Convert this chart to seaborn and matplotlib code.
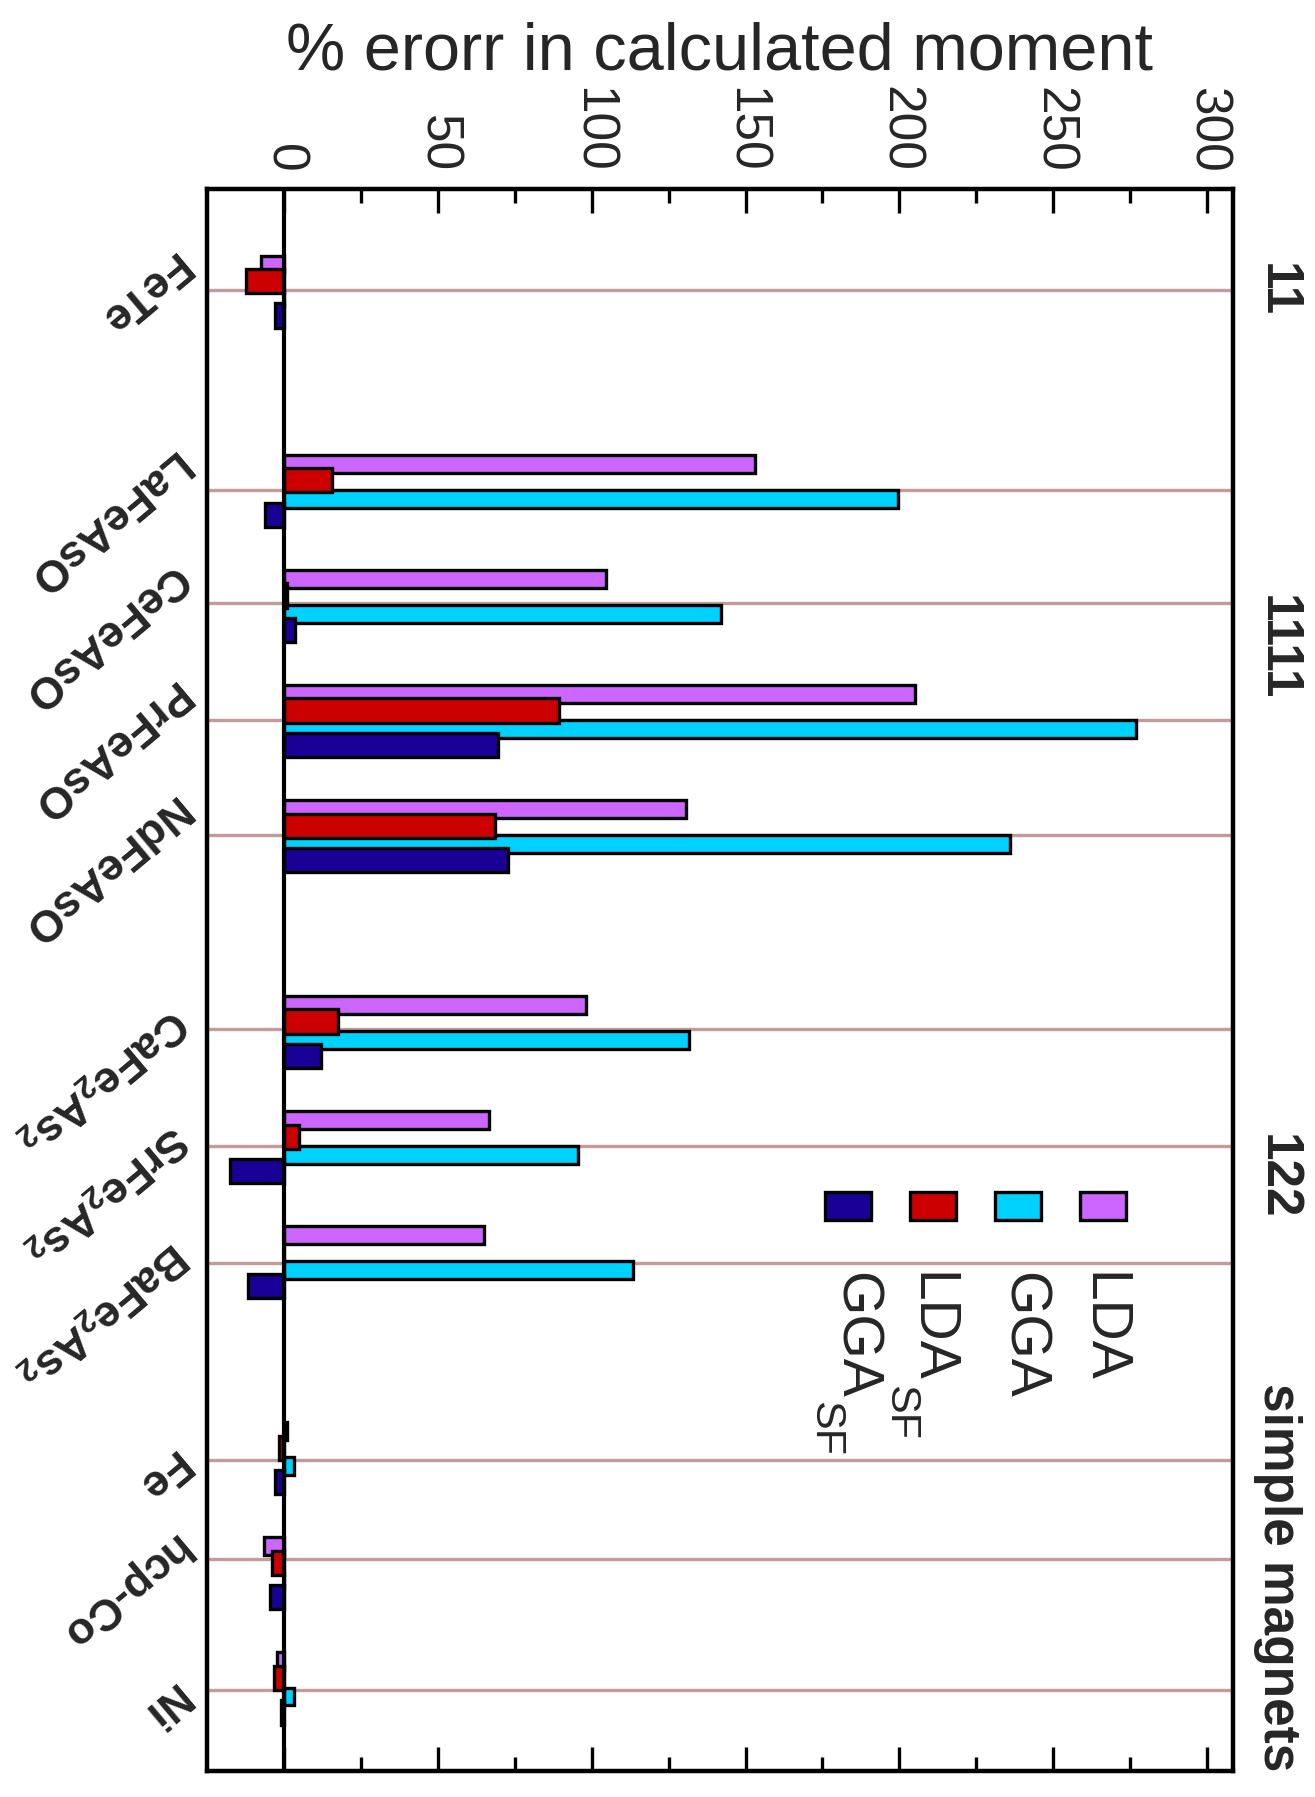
import numpy as np
import pandas as pd
import matplotlib
matplotlib.use('Agg')
import matplotlib.pyplot as plt
import matplotlib.transforms as mtransforms
from matplotlib.patches import Rectangle
from matplotlib.ticker import MultipleLocator
import seaborn as sns

# compounds (top to bottom) and their positions along the category axis
compounds = ['FeTe', 'LaFeAsO', 'CeFeAsO', 'PrFeAsO', 'NdFeAsO',
             'CaFe$_2$As$_2$', 'SrFe$_2$As$_2$', 'BaFe$_2$As$_2$',
             'Fe', 'hcp-Co', 'Ni']
row_pos = [0, 1.73, 2.73, 3.73, 4.73, 6.43, 7.43, 8.43, 10.13, 11.13, 12.13]
guide_pos = [0, 1.735, 2.72, 3.73, 4.73, 6.42, 7.43, 8.45, 10.16, 11.02, 12.16]
label_pos = [-0.26, 1.47, 2.45, 3.46, 4.46, 6.30, 7.31, 8.33, 10.14, 10.87, 12.16]

# % error in calculated moment
lda = [-7.5, 153, 104.5, 205, 130.5, 98, 66.5, 65, 1, -6.5, -2.3]
gga = [0, 199.5, 142, 277, 236, 131.5, 95.5, 113.5, 3.3, 0, 3.3]
lda_sf = [-12.5, 15.5, 1, 89.5, 68.5, 17.5, 4.8, 0, -1.5, -4, -3.4]
gga_sf = [-2.8, -6.3, 3.6, 69.5, 72.8, 12, -17.5, -11.7, -3, -4.5, -1]

groups = ['11', '1111', '122', 'simple magnets']
group_pos = [0, 3.11, 7.7, 11.18]

W, H = 1315, 1797
sns.set_style('white')
plt.rcParams['font.family'] = ['Liberation Sans', 'DejaVu Sans']
plt.rcParams['mathtext.fontset'] = 'custom'
plt.rcParams['mathtext.rm'] = 'Liberation Sans'
plt.rcParams['mathtext.bf'] = 'Liberation Sans:bold'
plt.rcParams['mathtext.default'] = 'regular'

fig = plt.figure(figsize=(W / 100, H / 100), dpi=100)
ax = fig.add_axes([207.5 / W, 1 - 1771 / H, 1025 / W, 1582 / H])

# grid lines behind the bars
for p in guide_pos:
    ax.axhline(p, color='#c49a9a', lw=2.4, zorder=0.5)

# legend text, values, colour, offset within a row, bar thickness  (drawing order matters)
methods = [
    (('LDA', ''), lda, '#cc66ff', -0.222, 0.155),
    (('GGA', ''), gga, '#00d2ff', 0.083, 0.155),
    (('LDA', 'SF'), lda_sf, '#cc0000', -0.078, 0.21),
    (('GGA', 'SF'), gga_sf, '#1a0096', 0.222, 0.21),
]
for name, vals, col, off, h in methods:
    df = pd.DataFrame({'pos': np.array(row_pos) + off, 'err': vals})
    native = np.diff(np.unique(df['pos'])).min()
    sns.barplot(data=df, x='err', y='pos', orient='y', native_scale=True,
                width=h / native, color=col, saturation=1, edgecolor='black',
                linewidth=2.4, errorbar=None, ax=ax)

ax.axvline(0, color='black', lw=3, zorder=5)

ax.set_xlim(-24.9, 308.3)
ax.set_ylim(12.86, -0.877)
ax.set_xlabel('')
ax.set_ylabel('')
ax.set_yticks([])
ax.xaxis.set_major_locator(MultipleLocator(50))
ax.xaxis.set_minor_locator(MultipleLocator(25))
ax.tick_params(axis='x', which='both', direction='in', top=True, bottom=True,
               labeltop=True, labelbottom=False, width=2.4, color='black')
ax.tick_params(axis='x', which='major', length=17, labelsize=37, pad=12,
               labelrotation=-90)
ax.tick_params(axis='x', which='minor', length=10)
for s in ax.spines.values():
    s.set_linewidth(3.2)
    s.set_color('black')

fig.text(720 / W, 1 - 69 / H, '% erorr in calculated moment', ha='center',
         va='baseline', fontsize=48)

trans = mtransforms.blended_transform_factory(ax.transAxes, ax.transData)
for name, p in zip(compounds, label_pos):
    ax.text(-0.026, p, name, transform=trans, rotation=220,
            rotation_mode='anchor', ha='left', va='center', fontsize=32,
            fontweight='bold')
for g, p in zip(groups, group_pos):
    ax.text(1.044, p, g, transform=trans, rotation=-90, ha='center',
            va='center', fontsize=37, fontweight='bold')

# legend, drawn rotated like the rest of the chart
renderer = fig.canvas.get_renderer()
leg_x = [1103, 1018, 933, 848]
leg_base = [1087, 1008, 915, 840]
for (name, vals, col, off, h), cx, bx in zip(methods, leg_x, leg_base):
    fig.add_artist(Rectangle(((cx - 23) / W, 1 - 1220 / H), 46 / W, 28 / H,
                             transform=fig.transFigure, facecolor=col,
                             edgecolor='black', lw=2.4))
    t = fig.text(bx / W, 1 - 1272 / H, name[0], rotation=-90,
                 rotation_mode='anchor', ha='left', va='baseline', fontsize=41)
    if name[1]:
        bb = t.get_window_extent(renderer)
        fig.text((bx - 26) / W, (bb.y0 - 2) / H, name[1], rotation=-90,
                 rotation_mode='anchor', ha='left', va='baseline', fontsize=31)

fig.savefig('out.png', dpi=100)
